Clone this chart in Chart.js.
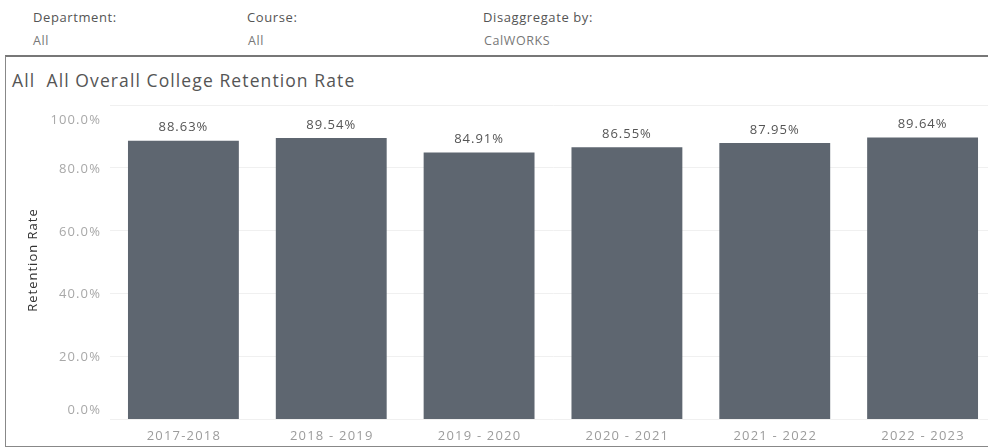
<!DOCTYPE html>
<html>
<head>
<meta charset="utf-8">
<script src="https://cdn.jsdelivr.net/npm/chart.js@4/dist/chart.umd.min.js"></script>
<style>
  html, body { margin:0; padding:0; width:988px; height:447px; overflow:hidden; background:#fff; font-family:"Open Sans", sans-serif; }
  .lbl { position:absolute; font-size:13px; color:#555; line-height:16px; white-space:nowrap; letter-spacing:0.6px; }
  .val { position:absolute; font-size:12.5px; color:#777; line-height:16px; white-space:nowrap; letter-spacing:0.6px; }
  #box { position:absolute; left:5px; top:55px; width:1000px; height:389px; border-top:2px solid #777; border-left:1.5px solid #888; border-bottom:1.5px solid #888; }
  #title { position:absolute; left:12px; top:69px; font-size:17.5px; color:#555; line-height:22px; white-space:nowrap; letter-spacing:1.1px; }
  #wrap { position:absolute; left:0; top:0; width:1000px; height:447px; }
</style>
</head>
<body>
<div class="lbl" style="left:33px;top:9px;">Department:</div>
<div class="val" style="left:33px;top:33px;">All</div>
<div class="lbl" style="left:247px;top:9px;">Course:</div>
<div class="val" style="left:248px;top:33px;">All</div>
<div class="lbl" style="left:483px;top:9px;">Disaggregate by:</div>
<div class="val" style="left:484px;top:33px;">CalWORKS</div>
<div id="box"></div>
<div id="title">All&nbsp; All Overall College Retention Rate</div>
<div id="wrap"><canvas id="c" width="1000" height="447"></canvas></div>
<script>
const categories = ["2017-2018", "2018 - 2019", "2019 - 2020", "2020 - 2021", "2021 - 2022", "2022 - 2023"];
const retentionRate = [88.63, 89.54, 84.91, 86.55, 87.95, 89.64];
const yTickValues = [0, 20, 40, 60, 80, 100];
const yTitle = "Retention Rate";

const FONT = '"Open Sans", sans-serif';

const textPlugin = {
  id: 'textPlugin',
  afterDatasetsDraw(chart) {
    const ctx = chart.ctx;
    const ys = chart.scales.y;
    const xs = chart.scales.x;
    const area = chart.chartArea;
    ctx.save();
    // y tick labels
    ctx.letterSpacing = '1.1px';
    ctx.font = '13px ' + FONT;
    ctx.fillStyle = '#a8a8a8';
    ctx.textAlign = 'right';
    ctx.textBaseline = 'middle';
    yTickValues.forEach(v => {
      let py = ys.getPixelForValue(v);
      py = Math.min(Math.max(py + 1, area.top + 15), area.bottom - 9);
      ctx.fillText(v.toFixed(1) + '%', 101, py);
    });
    // x tick labels
    ctx.fillStyle = '#9c9c9c';
    ctx.textAlign = 'center';
    ctx.letterSpacing = '1.2px';
    categories.forEach((c, i) => {
      ctx.fillText(c, xs.getPixelForValue(i) + 0.5, 436);
    });
    // y title
    ctx.save();
    ctx.translate(33, 260);
    ctx.rotate(-Math.PI / 2);
    ctx.textAlign = 'center';
    ctx.textBaseline = 'middle';
    ctx.fillStyle = '#333';
    ctx.letterSpacing = '1px';
    ctx.font = '13px ' + FONT;
    ctx.fillText(yTitle, 0, 0);
    ctx.restore();
    // data labels
    const meta = chart.getDatasetMeta(0);
    ctx.font = '13px ' + FONT;
    ctx.letterSpacing = '1px';
    ctx.fillStyle = '#555';
    ctx.textAlign = 'center';
    ctx.textBaseline = 'middle';
    meta.data.forEach((bar, i) => {
      ctx.fillText(retentionRate[i].toFixed(2) + '%', bar.x, bar.y - 13);
    });
    ctx.restore();
  }
};

new Chart(document.getElementById('c'), {
  type: 'bar',
  data: {
    labels: categories,
    datasets: [{
      data: retentionRate,
      backgroundColor: '#5e6670',
      borderWidth: 0,
      categoryPercentage: 1.0,
      barPercentage: 0.75
    }]
  },
  options: {
    responsive: false,
    animation: false,
    events: [],
    layout: { padding: { top: 105, right: 3.5, left: 0, bottom: 0 } },
    plugins: { legend: { display: false }, tooltip: { enabled: false } },
    scales: {
      x: {
        offset: true,
        grid: { display: false, drawTicks: false },
        border: { display: false },
        ticks: { display: false },
        afterFit(s) { s.height = 27.5; }
      },
      y: {
        min: 0, max: 100,
        afterBuildTicks(s) { s.ticks = yTickValues.map(v => ({ value: v })); },
        grid: { color: '#f0f0f0', drawTicks: false, lineWidth: 1 },
        border: { display: false },
        ticks: { display: false },
        afterFit(s) { s.width = 109.5; }
      }
    }
  },
  plugins: [textPlugin]
});
</script>
</body>
</html>
